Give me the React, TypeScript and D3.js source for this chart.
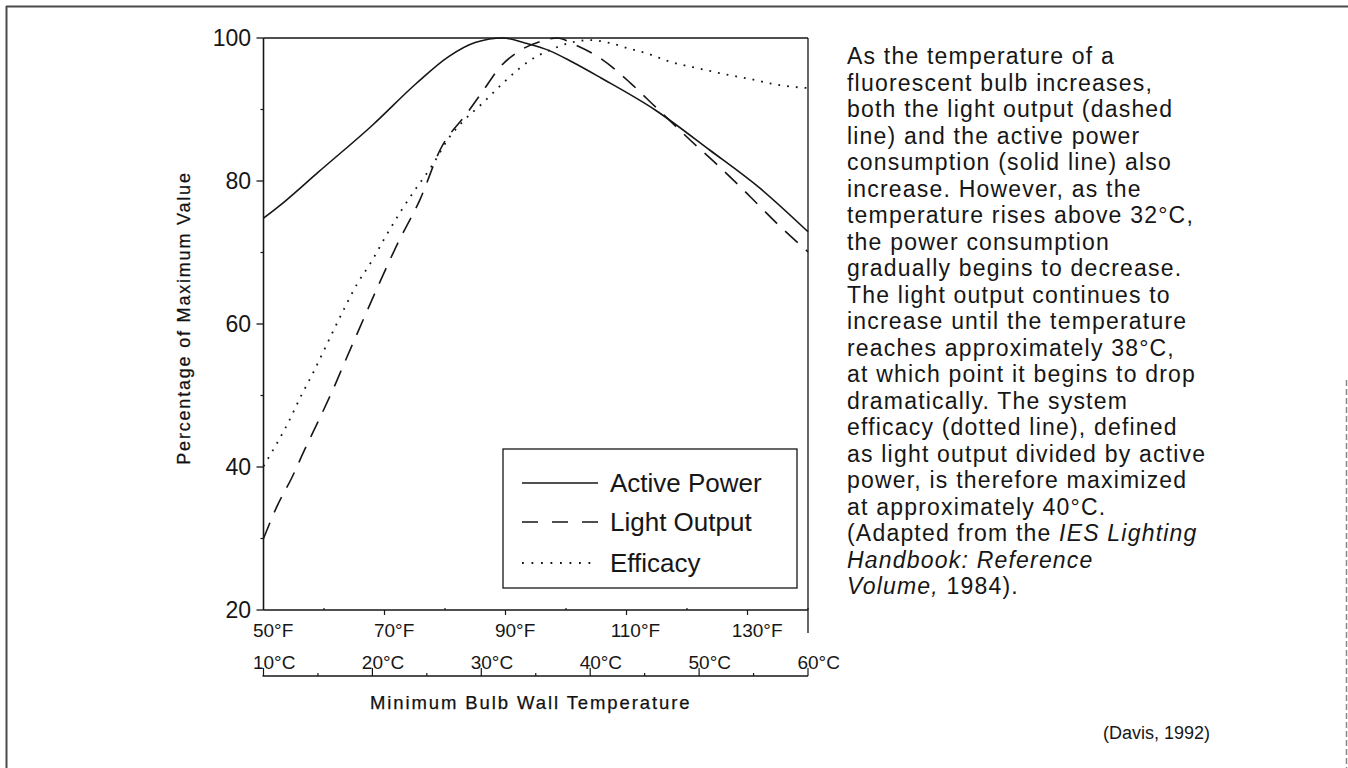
import React from "react";
import * as d3 from "d3";

// ---- data (x in °C, y in % of maximum) ----
const powerC = [10, 12, 15, 20, 24, 27, 29.5, 32, 34, 36.3, 38.4, 41, 46, 51, 55.5, 60];
const powerV = [74.8, 77.2, 81.2, 87.8, 93.6, 97.4, 99.4, 100, 99.3, 98.2, 96.6, 94.4, 89.9, 84.3, 79.1, 72.9];

const lightC = [10, 11.3, 12.6, 13.8, 15, 16.6, 17.5, 18.9, 20.4, 22.3, 24.4, 26.2, 28.7, 30.2, 31.7, 33.3, 35.4, 37, 38.4, 41, 43.7, 45.9, 49.2, 52, 54.7, 57.4, 60];
const lightV = [30, 34.7, 38.5, 42.5, 46.3, 51.6, 54.8, 59.7, 64.9, 71.2, 77.5, 84.3, 89.5, 92.7, 95.9, 98, 99.5, 100, 99.2, 97.1, 93.7, 90.5, 85.7, 81.8, 77.8, 73.7, 70.1];

const effC = [10, 11, 12.2, 13.4, 14.5, 15.8, 17.2, 18.6, 19.9, 21.2, 22.5, 23.8, 25.5, 27.1, 28.3, 30.2, 32, 33.3, 34.5, 36.3, 38.1, 40, 41.8, 43.6, 45.3, 47.1, 50.1, 52.8, 54.6, 57.4, 60];
const effV = [40.1, 42.7, 46, 49.8, 53, 57.1, 61.5, 65.6, 68.7, 72.2, 75.5, 78.5, 82.2, 86.2, 88.3, 91, 93.7, 95.5, 96.9, 98.3, 99.3, 99.7, 99.3, 98.5, 97.8, 96.8, 95.7, 94.8, 94.3, 93.4, 93];

const yTicks = [20, 40, 60, 80, 100];
const yMinor = [30, 50, 70, 90];
const fTicks = [50, 70, 90, 110, 130];
const fMinor = [60, 80, 100, 120, 140];
const cTicks = [10, 20, 30, 40, 50, 60];
const cMinor = [15, 25, 35, 45, 55];

const legendItems = ["Active Power", "Light Output", "Efficacy"];

const paragraph: [string, boolean][][] = [
  [["As the temperature of a", false]],
  [["fluorescent bulb increases,", false]],
  [["both the light output (dashed", false]],
  [["line) and the active power", false]],
  [["consumption (solid line) also", false]],
  [["increase. However, as the", false]],
  [["temperature rises above 32°C,", false]],
  [["the power consumption", false]],
  [["gradually begins to decrease.", false]],
  [["The light output continues to", false]],
  [["increase until the temperature", false]],
  [["reaches approximately 38°C,", false]],
  [["at which point it begins to drop", false]],
  [["dramatically. The system", false]],
  [["efficacy (dotted line), defined", false]],
  [["as light output divided by active", false]],
  [["power, is therefore maximized", false]],
  [["at approximately 40°C.", false]],
  [["(Adapted from the ", false], ["IES Lighting", true]],
  [["Handbook: Reference", true]],
  [["Volume,", true], [" 1984).", false]],
];

const FONT = "'Liberation Sans', Arial, Helvetica, sans-serif";
const INK = "#161616";

export default function App() {
  const x = d3.scaleLinear().domain([10, 60]).range([263.5, 808]);
  const y = d3.scaleLinear().domain([20, 100]).range([610, 38]);
  const fToC = (f: number) => ((f - 32) * 5) / 9;

  const line = d3
    .line<[number, number]>()
    .x((d) => x(d[0]))
    .y((d) => y(d[1]))
    .curve(d3.curveMonotoneX);

  const zip = (a: number[], b: number[]) => a.map((v, i) => [v, b[i]] as [number, number]);

  const solidD = line(zip(powerC, powerV)) || "";
  const dashD = line(zip(lightC, lightV)) || "";
  const dotD = line(zip(effC, effV)) || "";

  const x0 = x.range()[0];
  const x1 = x.range()[1];
  const yTop = y.range()[1];
  const yBot = y.range()[0];
  const cAxisY = 676;

  const tickFs = 19;
  const numWidth = (n: number) => String(n).length * 0.556 * tickFs;

  const legX = 503, legY = 449, legW = 294, legH = 139;
  const legRowY = [483, 522, 563];
  const styles = [
    { dash: undefined as string | undefined, w: 1.4 },
    { dash: "16,14", w: 1.5 },
    { dash: "1.8,7.7", w: 1.8 },
  ];

  return (
    <div style={{ position: "fixed", left: 0, top: 0, width: 1348, height: 768, background: "#fff" }}>
      <svg width={1348} height={768} style={{ display: "block" }}>
        <rect x={0} y={0} width={1348} height={768} fill="#fff" />
        {/* outer frame */}
        <line x1={6} y1={6.5} x2={1348} y2={6.5} stroke="#4a4a4a" strokeWidth={2} />
        <line x1={6.5} y1={6} x2={6.5} y2={768} stroke="#4a4a4a" strokeWidth={2} />
        <line x1={1346.5} y1={380} x2={1346.5} y2={768} stroke="#888" strokeWidth={1.5} strokeDasharray="6,3" />

        {/* plot frame */}
        <g stroke={INK} strokeWidth={1.6} fill="none">
          <line x1={x0} y1={yTop} x2={x0} y2={yBot} />
          <line x1={x0} y1={yTop} x2={x1} y2={yTop} strokeWidth={1.3} />
          <line x1={x0} y1={yBot} x2={x1} y2={yBot} strokeWidth={1.3} />
          <line x1={x1} y1={yTop} x2={x1} y2={633} strokeWidth={1.3} />
        </g>

        {/* y ticks */}
        {yTicks.map((t) => (
          <g key={"yt" + t}>
            <line x1={x0 - 7} x2={x0} y1={y(t)} y2={y(t)} stroke={INK} strokeWidth={1.3} />
            <text x={251} y={y(t)} dy="0.36em" textAnchor="end" fontFamily={FONT} fontSize={23} fill={INK}>
              {t}
            </text>
          </g>
        ))}
        {yMinor.map((t) => (
          <line key={"ym" + t} x1={x0 - 3} x2={x0} y1={y(t)} y2={y(t)} stroke={INK} strokeWidth={1.2} />
        ))}

        {/* Fahrenheit axis */}
        {fTicks.map((f) => (
          <g key={"ft" + f}>
            {f !== 50 && (
              <line x1={x(fToC(f))} x2={x(fToC(f))} y1={yBot} y2={yBot + 5} stroke={INK} strokeWidth={1.2} />
            )}
            <text x={x(fToC(f)) - numWidth(f) / 2} y={637} textAnchor="start" fontFamily={FONT} fontSize={tickFs} fill={INK}>
              {f + "°F"}
            </text>
          </g>
        ))}
        {fMinor.map((f) => (
          <line key={"fm" + f} x1={x(fToC(f))} x2={x(fToC(f))} y1={yBot - 2} y2={yBot} stroke={INK} strokeWidth={1.2} />
        ))}

        {/* Celsius axis */}
        <line x1={x(10) - 1} x2={x(60)} y1={cAxisY} y2={cAxisY} stroke={INK} strokeWidth={1.3} />
        {cTicks.map((c) => (
          <g key={"ct" + c}>
            <line x1={x(c)} x2={x(c)} y1={cAxisY - 8} y2={cAxisY} stroke={INK} strokeWidth={1.2} />
            <text x={x(c) - numWidth(c) / 2} y={669} textAnchor="start" fontFamily={FONT} fontSize={tickFs} fill={INK}>
              {c + "°C"}
            </text>
          </g>
        ))}
        {cMinor.map((c) => (
          <line key={"cm" + c} x1={x(c)} x2={x(c)} y1={cAxisY - 3} y2={cAxisY} stroke={INK} strokeWidth={1.2} />
        ))}

        {/* axis titles */}
        <text x={370} y={709} fontFamily={FONT} fontSize={18.5} letterSpacing={1.9} fill="#111" stroke="#111" strokeWidth={0.25}>
          Minimum Bulb Wall Temperature
        </text>
        <text
          transform={`translate(190, 318) rotate(-90)`}
          textAnchor="middle"
          fontFamily={FONT}
          fontSize={18}
          letterSpacing={1.8}
          fill="#111"
          stroke="#111"
          strokeWidth={0.25}
        >
          Percentage of Maximum Value
        </text>

        {/* curves */}
        <path d={solidD} fill="none" stroke={INK} strokeWidth={1.6} />
        <path d={dashD} fill="none" stroke={INK} strokeWidth={1.6} strokeDasharray="17,11" />
        <path d={dotD} fill="none" stroke={INK} strokeWidth={1.8} strokeDasharray="1.8,7" />

        {/* legend */}
        <rect x={legX} y={legY} width={legW} height={legH} fill="#fff" stroke={INK} strokeWidth={1.3} />
        {legendItems.map((name, i) => (
          <g key={name}>
            <line
              x1={522}
              x2={598}
              y1={legRowY[i]}
              y2={legRowY[i]}
              stroke={INK}
              strokeWidth={styles[i].w}
              strokeDasharray={styles[i].dash}
            />
            <text x={610} y={legRowY[i]} dy="0.36em" fontFamily={FONT} fontSize={26} fill={INK}>
              {name}
            </text>
          </g>
        ))}

        {/* paragraph */}
        <text fontFamily={FONT} fontSize={23} letterSpacing={1.2} fill={INK}>
          {paragraph.map((segs, i) => (
            <tspan key={i} x={847} y={64 + i * 26.5}>
              {segs.map(([t, it], j) => (
                <tspan key={j} fontStyle={it ? "italic" : "normal"}>
                  {t}
                </tspan>
              ))}
            </tspan>
          ))}
        </text>

        <text x={1210} y={739} textAnchor="end" fontFamily={FONT} fontSize={18} fill={INK}>
          (Davis, 1992)
        </text>
      </svg>
    </div>
  );
}
